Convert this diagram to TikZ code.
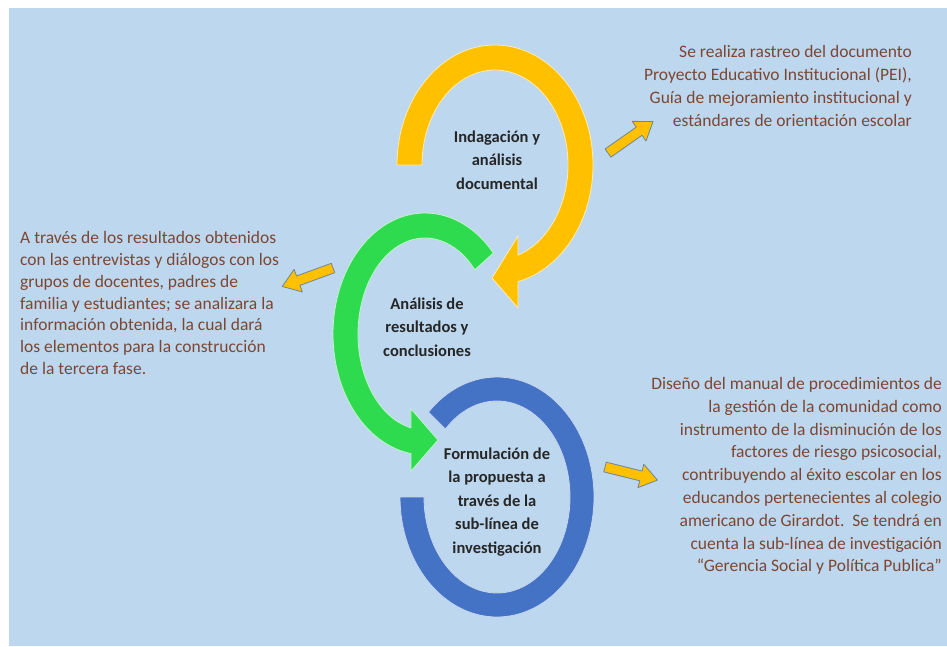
\documentclass[tikz,border=0pt]{standalone}
\usepackage{fontspec}
\setmainfont{Carlito}
\usepackage{tikz}
\usetikzlibrary{arrows.meta}

\definecolor{bgblue}{RGB}{189,215,238}
\definecolor{arcyellow}{RGB}{255,192,0}
\definecolor{arcgreen}{RGB}{46,219,79}
\definecolor{arcblue}{RGB}{68,114,196}
\definecolor{notebrown}{RGB}{125,70,50}
\definecolor{arrowedge}{RGB}{110,135,150}

\tikzset{
  phase/.style={font=\bfseries\fontsize{16.5}{23.5}\selectfont, text=black!85, align=center, inner sep=0},
  note/.style={font=\fontsize{17.5}{23.3}\selectfont, text=notebrown, inner sep=0},
  band/.style={line width=0.8pt},
  pointer/.style={fill=arcyellow, draw=arrowedge, line width=0.8pt, line join=round},
}

\newcommand{\pointerarrow}[3]{% tail, angle, length
  \begin{scope}[shift={(#1)}, rotate=#2]
    \filldraw[pointer] (0,-5) -- (#3-17,-5) -- (#3-17,-12) -- (#3,0) -- (#3-17,12) -- (#3-17,5) -- (0,5) -- cycle;
  \end{scope}}

\begin{document}
\begin{tikzpicture}[x=1pt,y=-1pt]
  \useasboundingbox (0,0) rectangle (947,646);
  \fill[white] (0,0) rectangle (947,646);
  \fill[bgblue] (9,8) rectangle (947,646);

  % bands
  \begin{scope}[shift={(497,497)}]
    \filldraw[band, fill=arcblue, draw=white!70!arcblue] (225:97 and 120) arc[start angle=225, end angle=540, x radius=97, y radius=120]
      -- (540:73 and 96) arc[start angle=540, end angle=225, x radius=73, y radius=96] -- cycle;
  \end{scope}
  \begin{scope}[shift={(425,334)}]
    \filldraw[band, fill=arcgreen, draw=white!70!arcgreen] (318:92 and 121) arc[start angle=318, end angle=98.75, x radius=92, y radius=121]
      -- (-14,137) -- (13,106) -- (-14,75)
      -- (102.1:67 and 96) arc[start angle=102.1, end angle=318, x radius=67, y radius=96] -- cycle;
  \end{scope}
  \begin{scope}[shift={(495,165)}]
    \filldraw[band, fill=arcyellow, draw=white!70!arcyellow] (180:98 and 120) arc[start angle=180, end angle=436.4, x radius=98, y radius=120]
      -- (23,143) -- (-3,113) -- (23,71)
      -- (431.6:73 and 95) arc[start angle=431.6, end angle=180, x radius=73, y radius=95] -- cycle;
  \end{scope}

  \node[phase] (indagacion) at (497,160) {Indagación y\\análisis\\documental};
  \node[phase] (analisis) at (427,327) {Análisis de\\resultados y\\conclusiones};
  \node[phase] (formulacion) at (497,502) {Formulación de\\la propuesta a\\través de la\\sub-línea de\\investigación};

  \node[note, align=right, anchor=east] (rastreo) at (912,86) {Se realiza rastreo del documento\\Proyecto Educativo Institucional (PEI),\\Guía de mejoramiento institucional y\\estándares de orientación escolar};
  \node[note, font=\fontsize{17.5}{21.7}\selectfont, align=left, anchor=west] (entrevistas) at (20,303) {A través de los resultados obtenidos\\con las entrevistas y diálogos con los\\grupos de docentes, padres de\\familia y estudiantes; se analizara la\\información obtenida, la cual dará\\los elementos para la construcción\\de la tercera fase.};
  \node[note, font=\fontsize{17.5}{22.8}\selectfont, align=right, anchor=east] (manual) at (942,476) {Diseño del manual de procedimientos de\\la gestión de la comunidad como\\instrumento de la disminución de los\\factores de riesgo psicosocial,\\contribuyendo al éxito escolar en los\\educandos pertenecientes al colegio\\americano de Girardot.\ \ Se tendrá en\\cuenta la sub-línea de investigación\\“Gerencia Social y Política Publica”};

  \pointerarrow{608,153}{35}{55}
  \pointerarrow{333,268}{200}{54}
  \pointerarrow{605,467}{-14}{54}
\end{tikzpicture}
\end{document}
